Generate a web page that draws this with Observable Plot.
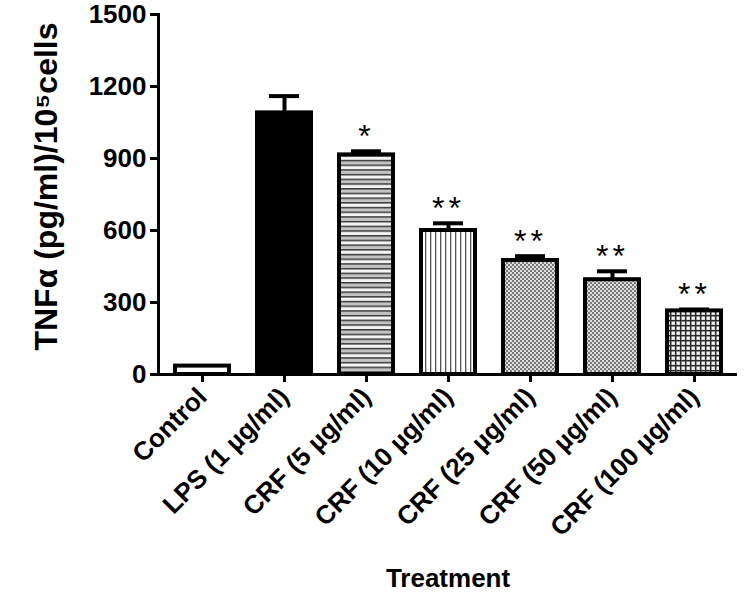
<!DOCTYPE html>
<html>
<head>
<meta charset="utf-8">
<script src="https://cdn.jsdelivr.net/npm/d3@7"></script>
<script src="https://cdn.jsdelivr.net/npm/@observablehq/plot@0.6"></script>
<style>
  html, body { margin: 0; padding: 0; background: #fff; }
  #chart svg { display: block; }
</style>
</head>
<body>
<div id="chart"></div>
<script>
// ---- data ----
const treatments = ["Control", "LPS (1 µg/ml)", "CRF (5 µg/ml)", "CRF (10 µg/ml)", "CRF (25 µg/ml)", "CRF (50 µg/ml)", "CRF (100 µg/ml)"];
const meanValues = [35, 1090, 915, 600, 475, 395, 265];
const errorValues = [0, 70, 15, 30, 18, 35, 6];
const significance = ["", "", "*", "**", "**", "**", "**"];
const yTicks = [0, 300, 600, 900, 1200, 1500];

// ---- styles (kept apart from the data) ----
const fillFor = {
  "Control": "white",
  "LPS (1 µg/ml)": "black",
  "CRF (5 µg/ml)": "url(#hstripe)",
  "CRF (10 µg/ml)": "url(#vstripe)",
  "CRF (25 µg/ml)": "url(#checker)",
  "CRF (50 µg/ml)": "url(#checker)",
  "CRF (100 µg/ml)": "url(#grid)"
};

const rows = treatments.map((t, i) => ({
  name: t, value: meanValues[i], err: errorValues[i], hi: meanValues[i] + errorValues[i], star: significance[i]
}));

const font = "'Liberation Sans', Arial, sans-serif";

const plot = Plot.plot({
  width: 748,
  height: 598,
  marginTop: 14,
  marginBottom: 224,
  marginLeft: 158,
  marginRight: 11,
  style: { fontFamily: font, fontWeight: "bold", color: "black", background: "white" },
  x: { domain: treatments, paddingInner: 0.347, paddingOuter: 0.173, label: null },
  y: { domain: [0, 1500], label: null },
  color: { type: "identity" },
  marks: [
    Plot.barY(rows, { x: "name", y: "value", fill: d => fillFor[d.name], stroke: "black", strokeWidth: 4 }),
    Plot.ruleX(rows.filter(d => d.err > 0), { x: "name", y1: "value", y2: "hi", stroke: "black", strokeWidth: 4 }),
    Plot.tickY(rows.filter(d => d.err > 0), { x: "name", y: "hi", stroke: "black", strokeWidth: 4, insetLeft: 12, insetRight: 12 }),
    Plot.text(rows.filter(d => d.star), { x: "name", y: "hi", text: "star", fontSize: 32, fontWeight: "normal", lineAnchor: "bottom", dy: -4, fill: "black" }),
    Plot.ruleY([0], { stroke: "black", strokeWidth: 3 }),
    Plot.frame({ anchor: "left", stroke: "black", strokeWidth: 3 }),
    Plot.axisY({ ticks: yTicks, tickFormat: d => String(d), tickSize: 8, tickPadding: 4, fontSize: 26, fontWeight: "bold", strokeWidth: 3, label: null }),
    Plot.axisX({ tickSize: 8, tickPadding: 10, tickRotate: -45, fontSize: 26, fontWeight: "bold", strokeWidth: 3, label: null }),
    Plot.text(["TNFα (pg/ml)/10⁵cells"], { frameAnchor: "left", textAnchor: "middle", rotate: -90, dx: -112, dy: -8, fontSize: 32, fontWeight: "bold", fill: "black" }),
    Plot.text(["Treatment"], { frameAnchor: "bottom", dy: 212, fontSize: 26, fontWeight: "bold", fill: "black" })
  ]
});

// pattern definitions for the hatched bars
const svg = d3.select(plot.tagName === "svg" ? plot : plot.querySelector("svg"));
const defs = svg.insert("defs", ":first-child");

const h = defs.append("pattern").attr("id", "hstripe").attr("patternUnits", "userSpaceOnUse").attr("width", 10).attr("height", 9.4);
h.append("rect").attr("width", 10).attr("height", 9.4).attr("fill", "#c4c4c4");
h.append("rect").attr("y", 4.7).attr("width", 10).attr("height", 4.7).attr("fill", "#f4f4f4");
h.append("rect").attr("y", 0).attr("width", 10).attr("height", 1.5).attr("fill", "#3a3a3a");
h.append("rect").attr("y", 4.7).attr("width", 10).attr("height", 1.5).attr("fill", "#3a3a3a");

const v = defs.append("pattern").attr("id", "vstripe").attr("patternUnits", "userSpaceOnUse").attr("width", 5).attr("height", 10);
v.append("rect").attr("width", 5).attr("height", 10).attr("fill", "white");
v.append("rect").attr("x", 0).attr("width", 1.3).attr("height", 10).attr("fill", "#555");

const c = defs.append("pattern").attr("id", "checker").attr("patternUnits", "userSpaceOnUse").attr("width", 4).attr("height", 4);
c.append("rect").attr("width", 4).attr("height", 4).attr("fill", "#dcdcdc");
c.append("rect").attr("width", 2).attr("height", 2).attr("fill", "#7a7a7a");
c.append("rect").attr("x", 2).attr("y", 2).attr("width", 2).attr("height", 2).attr("fill", "#7a7a7a");

const g = defs.append("pattern").attr("id", "grid").attr("patternUnits", "userSpaceOnUse").attr("width", 5).attr("height", 5);
g.append("rect").attr("width", 5).attr("height", 5).attr("fill", "#d8d8d8");
g.append("rect").attr("x", 2).attr("y", 2).attr("width", 2).attr("height", 2).attr("fill", "#f8f8f8");
g.append("rect").attr("width", 1.4).attr("height", 5).attr("fill", "#2a2a2a");
g.append("rect").attr("width", 5).attr("height", 1.4).attr("fill", "#2a2a2a");

// spacing between the asterisks
svg.selectAll("text").filter(function () { return /^\*+$/.test(this.textContent); })
  .style("letter-spacing", "4px");

document.getElementById("chart").appendChild(plot);
</script>
</body>
</html>
